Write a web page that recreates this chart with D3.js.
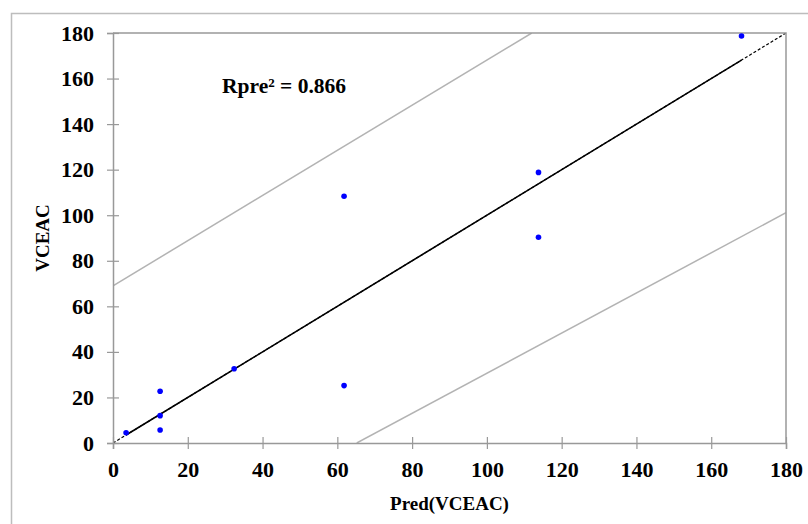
<!DOCTYPE html>
<html>
<head>
<meta charset="utf-8">
<script src="https://cdn.jsdelivr.net/npm/d3@7"></script>
<style>
  body { margin: 0; background: #fff; }
  text { font-family: "Liberation Serif", "Times New Roman", serif; font-weight: bold; }
</style>
</head>
<body>
<script>
// observed vs predicted values
var predVals = [3.5, 12.6, 12.6, 12.6, 32.4, 61.8, 61.8, 113.8, 113.8, 168.1];
var obsVals  = [4.5, 22.7, 12.0, 5.7, 32.6, 25.2, 108.3, 118.8, 90.3, 178.7];

// regression line (y = x), solid over data range, dashed outside
var fitLine = [[0, 0], [180, 180]];
// prediction band lines
var upperBand = [[0, 69], [112, 180]];
var lowerBand = [[65.2, 0], [180, 101.1]];

var ticks = [0, 20, 40, 60, 80, 100, 120, 140, 160, 180];
var r2Label = "Rpre² = 0.866";

var width = 808, height = 524;
var margin = { left: 113, right: 22, top: 33, bottom: 81 };

var svg = d3.select("body").append("svg")
  .attr("width", width)
  .attr("height", height);

// outer frame
svg.append("rect")
  .attr("x", 11.5).attr("y", 13.5)
  .attr("width", 820).attr("height", 540)
  .attr("fill", "none").attr("stroke", "#bdbdbd").attr("stroke-width", 1.5);

var x = d3.scaleLinear().domain([0, 180]).range([margin.left, width - margin.right]);
var y = d3.scaleLinear().domain([0, 180]).range([height - margin.bottom, margin.top]);

svg.append("clipPath").attr("id", "plot")
  .append("rect")
  .attr("x", x(0)).attr("y", y(180))
  .attr("width", x(180) - x(0)).attr("height", y(0) - y(180));

var line = d3.line().x(function(d) { return x(d[0]); }).y(function(d) { return y(d[1]); });

var g = svg.append("g").attr("clip-path", "url(#plot)");

// bands
[upperBand, lowerBand].forEach(function(b) {
  g.append("path").attr("d", line(b))
    .attr("fill", "none").attr("stroke", "#b3b3b3").attr("stroke-width", 1.5);
});

// fit line
var xMin = d3.min(predVals), xMax = d3.max(predVals);
g.append("path").attr("d", line(fitLine))
  .attr("fill", "none").attr("stroke", "#000").attr("stroke-width", 1.2)
  .attr("stroke-dasharray", "3,2");
g.append("path").attr("d", line([[xMin, xMin], [xMax, xMax]]))
  .attr("fill", "none").attr("stroke", "#000").attr("stroke-width", 1.6);

// plot frame (top, right)
svg.append("path")
  .attr("d", "M" + x(0) + "," + y(180) + "H" + x(180) + "V" + y(0))
  .attr("fill", "none").attr("stroke", "#999").attr("stroke-width", 1.5);

// axes
var xAxis = svg.append("g")
  .attr("transform", "translate(0," + y(0) + ")")
  .call(d3.axisBottom(x).tickValues(ticks).tickSize(6));
var yAxis = svg.append("g")
  .attr("transform", "translate(" + x(0) + ",0)")
  .call(d3.axisLeft(y).tickValues(ticks).tickSize(6).tickPadding(13));

[xAxis, yAxis].forEach(function(a) {
  a.select(".domain").attr("stroke", "#999").attr("stroke-width", 1.5);
  a.selectAll(".tick line").attr("stroke", "#999").attr("stroke-width", 1.2);
  a.selectAll(".tick text")
    .attr("fill", "#000")
    .style("font-size", "22px")
    .style("font-family", "'Liberation Serif', serif")
    .style("font-weight", "bold");
});
// cross ticks
xAxis.selectAll(".tick line").attr("y1", -6).attr("y2", 6);
yAxis.selectAll(".tick line").attr("x1", -6).attr("x2", 6);
xAxis.selectAll(".tick text").attr("dy", null).attr("y", 34);

// points
svg.append("g").selectAll("circle")
  .data(predVals)
  .enter().append("circle")
  .attr("cx", function(d) { return x(d); })
  .attr("cy", function(d, i) { return y(obsVals[i]); })
  .attr("r", 2.8)
  .attr("fill", "#0000ff");

// R² label
svg.append("text")
  .attr("x", 222).attr("y", 93)
  .style("font-size", "21.5px")
  .text(r2Label);

// axis titles
svg.append("text")
  .attr("x", (x(0) + x(180)) / 2).attr("y", 510)
  .attr("text-anchor", "middle")
  .style("font-size", "19px")
  .text("Pred(VCEAC)");
svg.append("text")
  .attr("transform", "translate(49," + (y(0) + y(180)) / 2 + ") rotate(-90)")
  .attr("text-anchor", "middle")
  .style("font-size", "19px")
  .text("VCEAC");
</script>
</body>
</html>
